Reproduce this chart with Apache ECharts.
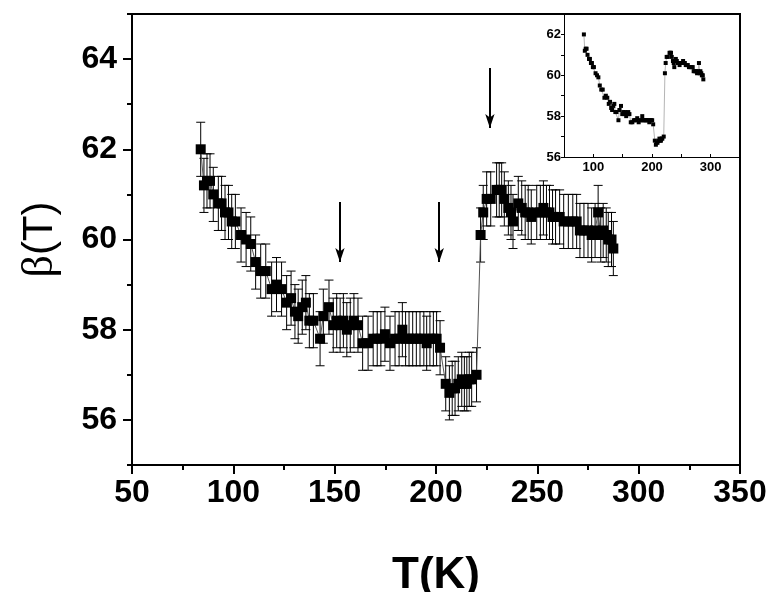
<!DOCTYPE html>
<html>
<head>
<meta charset="utf-8">
<script src="https://cdn.jsdelivr.net/npm/echarts@6/dist/echarts.min.js"></script>
<style>
  html, body { margin: 0; padding: 0; background: #fff; }
  #chart { width: 771px; height: 592px; }
</style>
</head>
<body>
<div id="chart"></div>
<script>
// temperature (K) and beta values
const temps = [83.9, 85.5, 87, 88.5, 90.1, 92.6, 94.2, 95.9, 97.6, 99.2, 101, 103.8, 106.3, 108.6, 111, 113.5, 116, 118.9,
  121.3, 123.8, 126.3, 128.5, 130.4, 132, 134, 135.8, 137.5, 139.5, 142.8, 144.4, 147.2, 149.3, 151, 152.7, 154.3, 156,
  157.7, 159.5, 161.5, 163.8, 166.5, 169, 171, 172.8, 174.8, 177.3, 179.8, 181.8, 183.4, 185, 186.7, 188.5, 190.3, 192.1,
  194, 195.4, 197, 198.7, 200.3, 202, 204.8, 206.6, 208, 209.4, 211, 212.7, 214, 215.2, 216.4, 217.6, 220, 222, 223.3,
  225, 227, 229.9, 231.2, 232.4, 233.7, 235.7, 237, 238, 240.6, 242.3, 244, 245.5, 247, 249.7, 251.5, 253, 254.5, 256,
  257.5, 259, 261, 263, 265.3, 267.5, 269.4, 271, 273, 275, 276.8, 278.5, 280, 281.3, 282.5, 284, 285, 286.6, 287.5];
const beta = [62.0, 61.2, 61.3, 61.3, 61.0, 60.8, 60.8, 60.6, 60.6, 60.4, 60.4, 60.1, 60.0, 59.9, 59.5, 59.3, 59.3, 58.9,
  59.0, 58.9, 58.6, 58.7, 58.4, 58.3, 58.5, 58.6, 58.2, 58.2, 57.8, 58.3, 58.5, 58.1, 58.2, 58.1, 58.2, 58.0,
  58.1, 58.2, 58.1, 57.7, 57.7, 57.8, 57.8, 57.8, 57.9, 57.7, 57.8, 57.8, 58.0, 57.8, 57.8, 57.8, 57.8, 57.8,
  57.8, 57.7, 57.8, 57.8, 57.8, 57.6, 56.8, 56.6, 56.7, 56.7, 56.8, 56.9, 56.8, 56.8, 56.9, 56.9, 57.0, 60.1, 60.6,
  60.9, 60.9, 61.1, 61.1, 61.1, 60.9, 60.7, 60.6, 60.4, 60.8, 60.7, 60.6, 60.6, 60.5, 60.6, 60.6, 60.7, 60.6, 60.6,
  60.5, 60.5, 60.5, 60.4, 60.4, 60.4, 60.4, 60.2, 60.2, 60.2, 60.1, 60.2, 60.6, 60.1, 60.2, 60.1, 60.0, 60.0, 59.8];
// error bar half widths
const errs = [0.6, 0.6, 0.6, 0.6, 0.6, 0.6, 0.6, 0.6, 0.6, 0.6, 0.6, 0.6, 0.6, 0.6, 0.6, 0.6, 0.6, 0.6,
  0.6, 0.6, 0.6, 0.6, 0.6, 0.6, 0.6, 0.6, 0.6, 0.6, 0.6, 0.6, 0.6, 0.6, 0.6, 0.6, 0.6, 0.6,
  0.6, 0.6, 0.6, 0.6, 0.6, 0.6, 0.6, 0.6, 0.6, 0.6, 0.6, 0.6, 0.6, 0.6, 0.6, 0.6, 0.6, 0.6,
  0.6, 0.6, 0.6, 0.6, 0.6, 0.6, 0.6, 0.6, 0.6, 0.6, 0.6, 0.6, 0.6, 0.6, 0.6, 0.6, 0.6, 0.6, 0.6,
  0.6, 0.6, 0.6, 0.6, 0.6, 0.6, 0.6, 0.6, 0.6, 0.6, 0.6, 0.6, 0.6, 0.6, 0.6, 0.6, 0.6, 0.6, 0.6,
  0.6, 0.6, 0.6, 0.6, 0.6, 0.6, 0.6, 0.6, 0.6, 0.6, 0.6, 0.6, 0.6, 0.6, 0.6, 0.6, 0.6, 0.6, 0.6];

// arrows: x position, start value, tip value
const arrowT = [152.6, 201.6, 226.6];
const arrowFrom = [60.83, 60.83, 63.8];
const arrowTo = [59.5, 59.5, 62.47];

// tick values
const yMajor = [56, 58, 60, 62, 64];
const yMinor = [55, 57, 59, 61, 63, 65];
const insetYLabels = [56, 58, 60, 62];
const insetYTicks = [56, 57, 58, 59, 60, 61, 62];
const insetXLabels = [100, 200, 300];
const insetXTicks = [100, 150, 200, 250, 300];

const FONT = 'Liberation Sans, Arial, sans-serif';

const chart = echarts.init(document.getElementById('chart'));

const points = temps.map((t, i) => [t, beta[i]]);
const bars = temps.map((t, i) => [t, beta[i] - errs[i], beta[i] + errs[i]]);

const arrowLines = arrowT.map((t, i) => [
  { coord: [t, arrowFrom[i]], symbol: 'none' },
  { coord: [t, arrowTo[i]], symbol: 'arrow' }
]);

function renderErr(params, api) {
  const x = api.value(0);
  const lo = api.coord([x, api.value(1)]);
  const hi = api.coord([x, api.value(2)]);
  const w = 4.5;
  const st = { stroke: '#000', lineWidth: 1 };
  return {
    type: 'group',
    children: [
      { type: 'line', shape: { x1: hi[0], y1: hi[1], x2: lo[0], y2: lo[1] }, style: st },
      { type: 'line', shape: { x1: hi[0] - w, y1: hi[1], x2: hi[0] + w, y2: hi[1] }, style: st },
      { type: 'line', shape: { x1: lo[0] - w, y1: lo[1], x2: lo[0] + w, y2: lo[1] }, style: st }
    ]
  };
}

const option = {
  backgroundColor: '#fff',
  animation: false,
  grid: [
    { left: 132, right: 31, top: 14, bottom: 127, outerBoundsMode: 'none', containLabel: false,
      show: true, borderColor: '#000', borderWidth: 2, backgroundColor: 'transparent' },
    { left: 564, right: 31, top: 14, bottom: 435, outerBoundsMode: 'none', containLabel: false }
  ],
  xAxis: [
    {
      gridIndex: 0, type: 'value', min: 50, max: 350, interval: 50,
      name: 'T(K)', nameLocation: 'middle', nameGap: 89,
      nameTextStyle: { fontFamily: FONT, fontSize: 44, fontWeight: 'bold', color: '#000' },
      axisLine: { lineStyle: { color: '#000', width: 2 } },
      axisTick: { length: 9, lineStyle: { color: '#000', width: 2 } },
      minorTick: { show: true, splitNumber: 2, length: 5, lineStyle: { color: '#000', width: 2 } },
      axisLabel: { fontFamily: FONT, fontSize: 32, fontWeight: 'bold', color: '#000', margin: 12 },
      splitLine: { show: false }
    },
    {
      gridIndex: 1, type: 'value', min: 50, max: 350,
      axisLine: { lineStyle: { color: '#000', width: 1 } },
      axisTick: { inside: true, length: 3, customValues: insetXTicks, lineStyle: { color: '#000' } },
      axisLabel: { customValues: insetXLabels, fontFamily: FONT, fontSize: 13, fontWeight: 'bold', color: '#000', margin: 4 },
      splitLine: { show: false }
    }
  ],
  yAxis: [
    {
      gridIndex: 0, type: 'value', min: 55, max: 65,
      name: '{g|β}(T)', nameLocation: 'middle', nameGap: 70, nameRotate: 90,
      nameTextStyle: {
        fontFamily: FONT, fontSize: 42, color: '#000',
        rich: { g: { fontFamily: 'Liberation Serif, serif', fontSize: 44, color: '#000' } }
      },
      axisLine: { lineStyle: { color: '#000', width: 2 } },
      axisTick: { length: 9, customValues: yMajor, lineStyle: { color: '#000', width: 2 } },
      axisLabel: { customValues: yMajor, fontFamily: FONT, fontSize: 32, fontWeight: 'bold', color: '#000', margin: 15 },
      splitLine: { show: false }
    },
    {
      gridIndex: 0, type: 'value', min: 55, max: 65, position: 'left',
      axisLine: { show: false },
      axisTick: { length: 5, customValues: yMinor, lineStyle: { color: '#000', width: 2 } },
      axisLabel: { show: false },
      splitLine: { show: false }
    },
    {
      gridIndex: 1, type: 'value', min: 56, max: 63,
      axisLine: { lineStyle: { color: '#000', width: 1 } },
      axisTick: { length: 3, customValues: insetYTicks, lineStyle: { color: '#000' } },
      axisLabel: { customValues: insetYLabels, fontFamily: FONT, fontSize: 13, fontWeight: 'bold', color: '#000', margin: 3 },
      splitLine: { show: false }
    }
  ],
  series: [
    {
      type: 'custom', xAxisIndex: 0, yAxisIndex: 0, z: 2,
      renderItem: renderErr,
      encode: { x: 0, y: [1, 2] },
      data: bars
    },
    {
      type: 'line', xAxisIndex: 0, yAxisIndex: 0, z: 3,
      data: points,
      symbol: 'rect', symbolSize: 10,
      itemStyle: { color: '#000' },
      lineStyle: { color: '#555', width: 1 },
      markLine: {
        silent: true, animation: false,
        symbolSize: [7, 14],
        label: { show: false },
        lineStyle: { color: '#000', width: 2, type: 'solid' },
        data: arrowLines
      }
    },
    {
      type: 'line', xAxisIndex: 1, yAxisIndex: 2, z: 3,
      data: points,
      symbol: 'rect', symbolSize: 4,
      itemStyle: { color: '#000' },
      lineStyle: { color: '#b5b5b5', width: 1 }
    }
  ]
};

chart.setOption(option);
</script>
</body>
</html>
